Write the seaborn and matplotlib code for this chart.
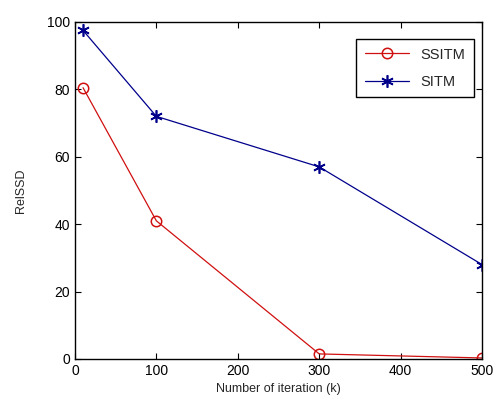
import pandas as pd
import matplotlib.pyplot as plt
import seaborn as sns

# values
iterations = [10, 100, 300, 500]
ssitm = [80.5, 41.0, 1.5, 0.3]
sitm = [97.5, 72.0, 57.0, 28.0]

sns.set_style('ticks')
plt.rcParams['font.family'] = ['Liberation Sans', 'DejaVu Sans']

fig = plt.figure(figsize=(4.96, 4.07), dpi=100)
ax = fig.add_axes([0.151, 0.118, 0.821, 0.828])

# SSITM: red open circles
sns.lineplot(x=iterations, y=ssitm, color='#d01010', marker='o',
             markersize=7.5, markerfacecolor='none', markeredgecolor='#d01010',
             markeredgewidth=1.1, linewidth=0.9, label='SSITM', ax=ax)
# SITM: blue asterisks, (6, 2, 0) is a matlab-like asterisk
sns.lineplot(x=iterations, y=sitm, color='#00008b', marker=(6, 2, 0),
             markersize=9, markeredgecolor='#00008b',
             markeredgewidth=1.2, linewidth=0.9, label='SITM', ax=ax)

ax.set_xlim(0, 500)
ax.set_ylim(0, 100)
ax.set_xticks(range(0, 501, 100))
ax.set_yticks(range(0, 101, 20))
ax.tick_params(direction='in', top=True, right=True, length=4, width=0.8,
               labelsize=10, colors='black')
for s in ax.spines.values():
    s.set_visible(True)
    s.set_linewidth(1.0)
    s.set_color('black')

ax.set_xlabel('Number of iteration (k)', fontsize=9)
ax.set_ylabel('RelSSD', fontsize=9, labelpad=14)

leg = ax.legend(loc='upper right', bbox_to_anchor=(0.98, 0.95),
                fontsize=10.5, fancybox=False, framealpha=1,
                edgecolor='black', borderaxespad=0, handlelength=3.0,
                labelspacing=0.9, borderpad=0.6)
leg.get_frame().set_linewidth(1.0)

fig.savefig('out.png', dpi=100)
